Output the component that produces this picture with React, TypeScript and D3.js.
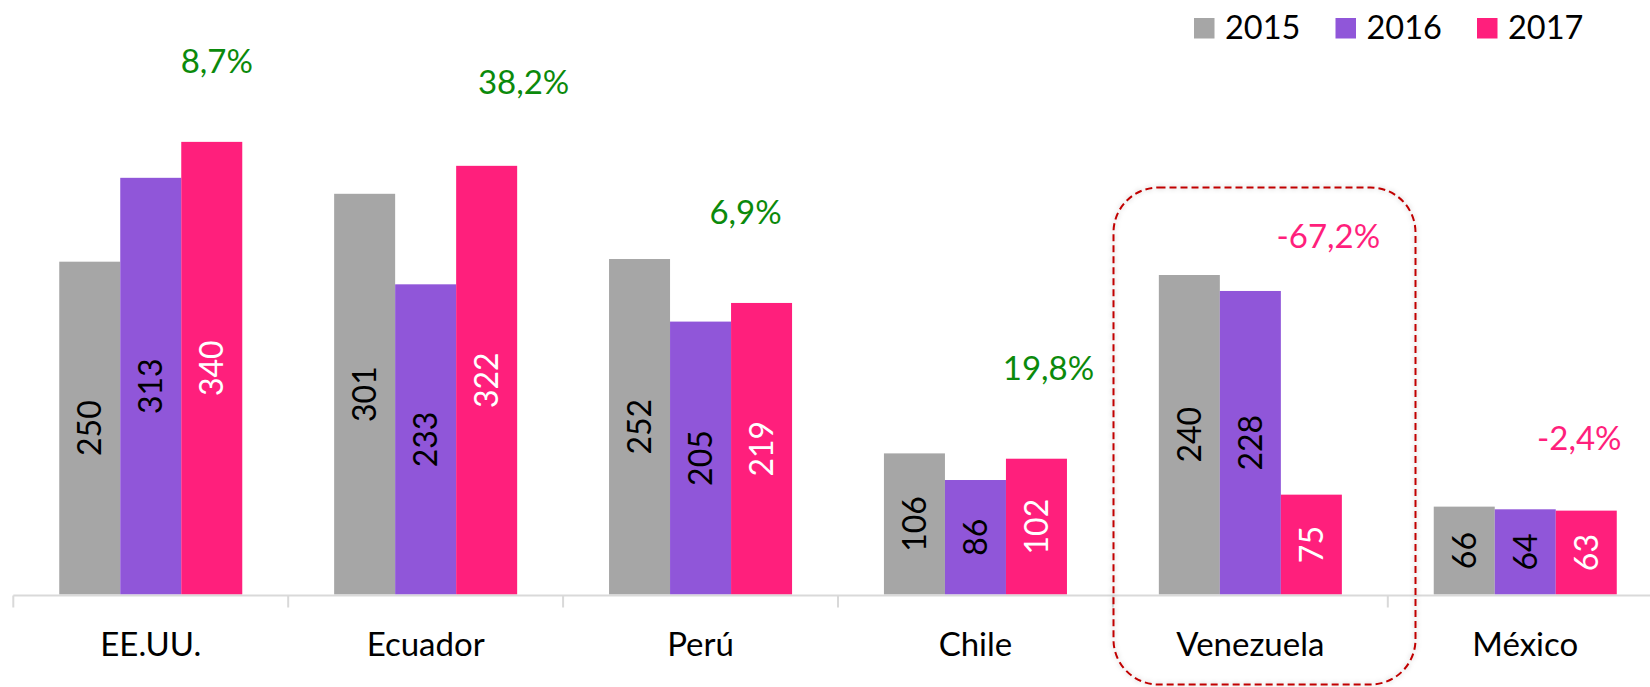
import React from "react";
import * as d3 from "d3";

const categories = ["EE.UU.", "Ecuador", "Perú", "Chile", "Venezuela", "México"];
const seriesNames = ["2015", "2016", "2017"];
const values2015 = [250, 301, 252, 106, 240, 66];
const values2016 = [313, 233, 205, 86, 228, 64];
const values2017 = [340, 322, 219, 102, 75, 63];
const pctChange = ["8,7%", "38,2%", "6,9%", "19,8%", "-67,2%", "-2,4%"];

// layout for the manually placed % annotations (value-units height, px offset from group centre)
const pctAnchorY = [392, 376, 278, 161, 260, 108.5];
const pctOffsetX = [66, 98, 45, 73, 78, 54];

const W = 1650;
const H = 687;
const FONT = "Lato, 'Open Sans', sans-serif";
const colors = ["#a6a6a6", "#9056d9", "#ff1f7c"];
const labelColors = ["#000000", "#000000", "#ffffff"];

export default function App() {
  const seriesValues = [values2015, values2016, values2017];
  const step = 274.9;
  const x0 = d3
    .scaleBand<string>()
    .domain(categories)
    .range([13.3, 13.3 + step * categories.length])
    .paddingInner(0)
    .paddingOuter(0);
  const x1 = d3
    .scaleBand<string>()
    .domain(seriesNames)
    .range([0, x0.bandwidth()])
    .paddingInner(0)
    .paddingOuter(0.753);
  const y = d3.scaleLinear().domain([0, 400]).range([594.5, 62]);
  const baseY = y(0);

  return (
    <svg
      width={W}
      height={H}
      style={{ position: "absolute", left: 0, top: 0, background: "#fff" }}
      fontFamily={FONT}
    >
      <defs>
        <filter id="shadow" x="-10%" y="-10%" width="120%" height="120%">
          <feDropShadow dx="0" dy="0" stdDeviation="2.5" floodColor="#000" floodOpacity="0.25" />
        </filter>
      </defs>
      <rect width={W} height={H} fill="#fff" />

      {/* bars */}
      {categories.map((c, ci) => (
        <g key={c} transform={`translate(${x0(c)},0)`}>
          {seriesNames.map((s, si) => {
            const v = seriesValues[si][ci];
            const bx = x1(s)!;
            const bw = x1.bandwidth();
            return (
              <rect
                key={s}
                x={bx}
                y={y(v)}
                width={bw}
                height={baseY - y(v)}
                fill={colors[si]}
              />
            );
          })}
          {seriesNames.map((s, si) => {
            const v = seriesValues[si][ci];
            const cx = x1(s)! + x1.bandwidth() / 2;
            const cy = (y(v) + baseY) / 2;
            return (
              <text
                key={"l" + s}
                transform={`translate(${cx},${cy}) rotate(-90)`}
                textAnchor="middle"
                dy="0.36em"
                fontSize={32}
                fill={labelColors[si]}
              >
                {v}
              </text>
            );
          })}
        </g>
      ))}

      {/* axis */}
      <line x1={13.3} x2={W} y1={baseY + 1} y2={baseY + 1} stroke="#d9d9d9" strokeWidth={2} />
      {d3.range(categories.length + 1).map((i) => {
        const tx = 13.3 + i * step;
        return (
          <line key={i} x1={tx} x2={tx} y1={baseY + 1} y2={baseY + 13} stroke="#d9d9d9" strokeWidth={2} />
        );
      })}
      {categories.map((c) => (
        <text
          key={"c" + c}
          x={x0(c)! + x0.bandwidth() / 2}
          y={655.5}
          textAnchor="middle"
          fontSize={33}
          fill="#000"
        >
          {c}
        </text>
      ))}

      {/* % annotations */}
      {categories.map((c, ci) => (
        <text
          key={"p" + c}
          x={x0(c)! + x0.bandwidth() / 2 + pctOffsetX[ci]}
          y={y(pctAnchorY[ci])}
          textAnchor="middle"
          fontSize={33}
          fill={pctChange[ci].startsWith("-") ? "#ff1f7c" : "#0b8a0b"}
        >
          {pctChange[ci]}
        </text>
      ))}

      {/* highlight around Venezuela */}
      <rect
        x={1113.5}
        y={187.5}
        width={302}
        height={497}
        rx={45}
        ry={45}
        fill="none"
        stroke="#c00000"
        strokeWidth={2}
        strokeDasharray="7 4"
        filter="url(#shadow)"
      />

      {/* legend */}
      {seriesNames.map((s, si) => {
        const lx = 1194 + si * 141.5;
        return (
          <g key={"lg" + s}>
            <rect x={lx} y={18} width={20.5} height={20.5} fill={colors[si]} />
            <text x={lx + 31} y={38.5} fontSize={32.5} fill="#000">
              {s}
            </text>
          </g>
        );
      })}
    </svg>
  );
}
